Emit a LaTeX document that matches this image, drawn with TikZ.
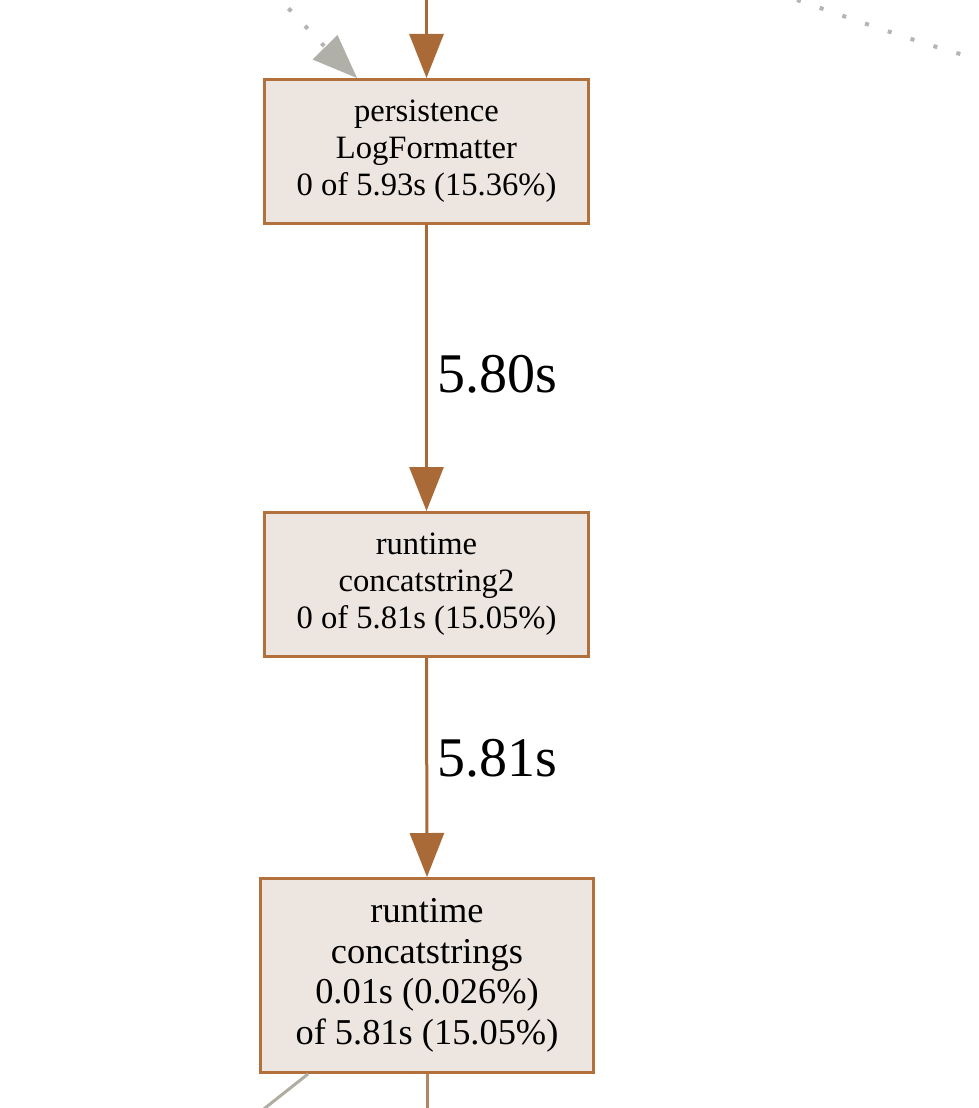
\documentclass[tikz,border=0pt]{standalone}
\usepackage{fontspec}
\setmainfont{Liberation Serif}
\usetikzlibrary{arrows.meta,calc}
\definecolor{nodeborder}{HTML}{B2703C}
\definecolor{nodefill}{HTML}{EDE5DF}
\definecolor{edgebrown}{HTML}{A96A38}
\definecolor{edgelight}{HTML}{B28660}
\definecolor{edgegray}{HTML}{B0ADA2}
\definecolor{dotgray}{HTML}{B4B4B4}
\definecolor{headgray}{HTML}{B0B0A8}
\begin{document}
\begin{tikzpicture}[x=1pt,y=-1pt,
  fnode/.style={draw=nodeborder,fill=nodefill,line width=3pt,rectangle,align=center,inner sep=0pt,
    font=\fontsize{32.6}{37}\selectfont},
  bignode/.style={fnode,font=\fontsize{36.4}{40.5}\selectfont},
  edgeline/.style={draw=edgebrown,line width=3pt,-{Triangle[length=44pt,width=34pt]}},
  edgelabel/.style={font=\fontsize{56}{60}\selectfont,inner sep=0pt,anchor=base west},
  dotline/.style={draw=dotgray,line width=4pt,dash pattern=on 4pt off 20pt},
]
\useasboundingbox (0,0) rectangle (978,1108);
\clip (0,0) rectangle (978,1108);
\fill[white] (0,0) rectangle (978,1108);

\node[fnode,minimum width=324pt,minimum height=144pt] (n1) at (426.5,151.5)
  {persistence\\LogFormatter\\0 of 5.93s (15.36\%)};
\node[fnode,minimum width=324pt,minimum height=144pt] (n2) at (426.5,584.5)
  {runtime\\concatstring2\\0 of 5.81s (15.05\%)};
\node[bignode,minimum width=333pt,minimum height=194pt] (n3) at (427,975.5)
  {runtime\\concatstrings\\0.01s (0.026\%)\\of 5.81s (15.05\%)};

\coordinate (topin) at (426.5,-5);
\coordinate (dotstart) at (272,-9);
\coordinate (dotbase) at (325,47);
\coordinate (dotend) at ([xshift=94pt]n1.north west);
\coordinate (rstart) at (797,0);
\coordinate (rend) at (990,62);
\coordinate (bgray) at (260,1112);
\coordinate (bbrown) at (427,1115);

% incoming edges
\draw[edgeline] (topin) -- (n1.north);
\draw[dotline] (dotstart) -- (dotbase);
\fill[headgray] (dotend) -- (312.5,59.5) -- (337.5,35) -- cycle;
\draw[dotline] (rstart) .. controls (870,25) and (930,47) .. (rend);

% main edges
\draw[edgeline] (n1.south) -- node[edgelabel,pos=0.584,xshift=9.5pt] (l1) {5.80s} (n2.north);
\draw[edgeline] (n2.south) -- node[edgelabel,pos=0.543,xshift=9.5pt] (l2) {5.81s} (n3.north);

% outgoing edges
\draw[draw=edgelight,line width=3pt] (n3.south) -- (bbrown);
\draw[draw=edgegray,line width=3pt] ([xshift=49pt]n3.south west) -- (bgray);
\end{tikzpicture}
\end{document}
